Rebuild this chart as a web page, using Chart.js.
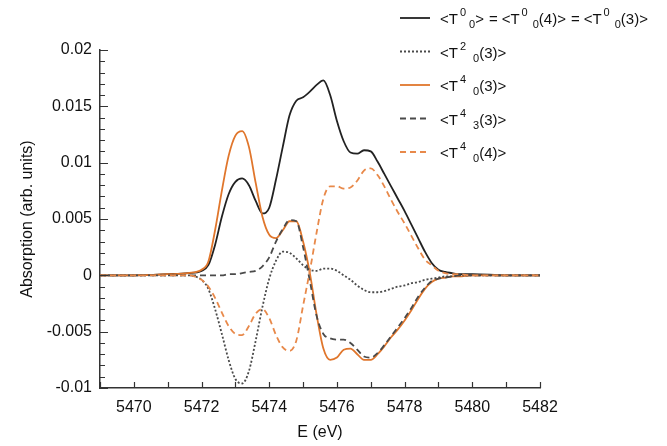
<!DOCTYPE html>
<html>
<head>
<meta charset="utf-8">
<script src="https://cdn.jsdelivr.net/npm/chart.js@4"></script>
<style>
  html, body { margin: 0; padding: 0; background: #fff; }
  #wrap { width: 667px; height: 446px; }
</style>
</head>
<body>
<div id="wrap"><canvas id="xasChart" width="667" height="446"></canvas></div>
<script>
// photon energy (eV), shared by every curve
const energy = [5469, 5470, 5471, 5471.6, 5472.0, 5472.2, 5472.4, 5472.6, 5472.8, 5473.0,
  5473.2, 5473.4, 5473.6, 5473.8, 5474.0, 5474.2, 5474.4, 5474.6, 5474.8, 5475.0,
  5475.2, 5475.4, 5475.6, 5475.8, 5476.0, 5476.2, 5476.4, 5476.6, 5476.8, 5477.0,
  5477.2, 5477.4, 5477.6, 5477.8, 5478.0, 5478.2, 5478.4, 5478.6, 5478.8, 5479.0,
  5479.2, 5479.4, 5479.6, 5480, 5481, 5482];

const t00 = [0, 0, 0.0001, 0.0002, 0.0004, 0.0009, 0.0027, 0.0052, 0.0072, 0.0083,
  0.0086, 0.0080, 0.0066, 0.0055, 0.0060, 0.0085, 0.0114, 0.0142, 0.0155, 0.0158,
  0.0163, 0.0169, 0.0173, 0.0160, 0.0137, 0.0119, 0.0109, 0.0108, 0.0111, 0.0110,
  0.0101, 0.0090, 0.0079, 0.0068, 0.0057, 0.0045, 0.0033, 0.0021, 0.0011, 0.0005,
  0.0003, 0.0002, 0.0001, 0.0001, 0, 0];

const t20_3 = [0, 0, 0, 0, -0.0004, -0.0012, -0.0030, -0.0052, -0.0075, -0.0092,
  -0.0096, -0.0085, -0.0058, -0.0028, -0.0003, 0.0013, 0.0021, 0.0020, 0.0015, 0.0009,
  0.0005, 0.0004, 0.0006, 0.0006, 0.0004, 0.0000, -0.0004, -0.0009, -0.0013, -0.0015,
  -0.0015, -0.0014, -0.0012, -0.0010, -0.0009, -0.0007, -0.0006, -0.0004, -0.0003, -0.0002,
  -0.0001, -0.0001, 0, 0, 0, 0];

const t40_3 = [0, 0, 0.0001, 0.0002, 0.0005, 0.0012, 0.0040, 0.0075, 0.0106, 0.0124,
  0.0128, 0.0114, 0.0082, 0.0052, 0.0036, 0.0033, 0.0040, 0.0048, 0.0048, 0.0030,
  0.0002, -0.0035, -0.0065, -0.0075, -0.0073, -0.0066, -0.0065, -0.0070, -0.0075, -0.0075,
  -0.0070, -0.0063, -0.0055, -0.0048, -0.0040, -0.0031, -0.0021, -0.0012, -0.0006, -0.0003,
  -0.0002, -0.0001, -0.0001, 0, 0, 0];

const t43_3 = [0, 0, 0, 0, 0, 0, 0, 0, 0.0001, 0.0001,
  0.0002, 0.0003, 0.0004, 0.0008, 0.0016, 0.0030, 0.0041, 0.0049, 0.0048, 0.0025,
  -0.0005, -0.0036, -0.0052, -0.0056, -0.0057, -0.0057, -0.0060, -0.0066, -0.0072, -0.0073,
  -0.0069, -0.0062, -0.0054, -0.0046, -0.0038, -0.0029, -0.0019, -0.0011, -0.0005, -0.0003,
  -0.0002, -0.0001, 0, 0, 0, 0];

const t40_4 = [0, 0, 0, 0, -0.0004, -0.0010, -0.0020, -0.0033, -0.0045, -0.0052,
  -0.0053, -0.0045, -0.0034, -0.0030, -0.0038, -0.0053, -0.0064, -0.0067, -0.0058, -0.0027,
  0.0004, 0.0038, 0.0068, 0.0079, 0.0079, 0.0077, 0.0078, 0.0084, 0.0093, 0.0095,
  0.0089, 0.0079, 0.0067, 0.0056, 0.0046, 0.0035, 0.0024, 0.0014, 0.0009, 0.0004,
  0.0002, 0.0001, 0.0001, 0, 0, 0];

const xTicks = [5470, 5472, 5474, 5476, 5478, 5480, 5482];
const yTicks = [-0.01, -0.005, 0, 0.005, 0.01, 0.015, 0.02];

const BLACK = '#222222';
const GREY = '#4a4a4a';
const ORANGE = '#e0762c';
const ORANGE_LIGHT = '#e8894a';
const FONT = '"Liberation Sans", Arial, sans-serif';

// legend rows: [T-superscript, T-subscript, argument] pieces
const legendRows = [
  { color: BLACK, dash: [], parts: [['0', '0', ''], ['0', '0', '(4)'], ['0', '0', '(3)']] },
  { color: GREY, dash: [2, 2], parts: [['2', '0', '(3)']] },
  { color: ORANGE, dash: [], parts: [['4', '0', '(3)']] },
  { color: GREY, dash: [6, 4], parts: [['4', '3', '(3)']] },
  { color: ORANGE_LIGHT, dash: [6, 4], parts: [['4', '0', '(4)']] }
];

function pts(arr) {
  return energy.map((e, i) => ({ x: e, y: arr[i] }));
}

function line(label, arr, color, dash) {
  return {
    label: label,
    data: pts(arr),
    borderColor: color,
    borderWidth: 1.8,
    borderDash: dash,
    pointRadius: 0,
    fill: false,
    cubicInterpolationMode: 'monotone'
  };
}

// inward tick marks like the original plot
const innerTicks = {
  id: 'innerTicks',
  afterDraw(chart) {
    const ctx = chart.ctx;
    const xs = chart.scales.x, ys = chart.scales.y;
    const area = chart.chartArea;
    ctx.save();
    ctx.strokeStyle = '#333';
    ctx.lineWidth = 1.2;
    ctx.beginPath();
    for (let v = 5469; v <= 5482; v++) {
      const px = Math.round(xs.getPixelForValue(v)) + 0.5;
      ctx.moveTo(px, area.bottom);
      ctx.lineTo(px, area.bottom - 6);
    }
    for (let k = -10; k <= 20; k++) {
      const py = Math.round(ys.getPixelForValue(k / 1000)) + 0.5;
      const len = k % 5 === 0 ? 8 : 5;
      ctx.moveTo(area.left, py);
      ctx.lineTo(area.left + len, py);
    }
    ctx.stroke();
    ctx.restore();
  }
};

// legend with super/subscripts drawn as text
const texLegend = {
  id: 'texLegend',
  afterDraw(chart) {
    const ctx = chart.ctx;
    const big = '15px ' + FONT;
    const small = '11px ' + FONT;
    ctx.save();
    ctx.textBaseline = 'alphabetic';
    ctx.fillStyle = '#111';
    legendRows.forEach((row, i) => {
      const y = 18 + i * 33.5;
      ctx.strokeStyle = row.color;
      ctx.lineWidth = 1.8;
      ctx.setLineDash(row.dash);
      ctx.beginPath();
      ctx.moveTo(400, y);
      ctx.lineTo(430, y);
      ctx.stroke();
      ctx.setLineDash([]);
      let x = 440;
      const base = y + 6;
      row.parts.forEach((p, j) => {
        if (j > 0) {
          ctx.font = big;
          ctx.fillText('=', x + 5, base);
          x += ctx.measureText('=').width + 9;
        }
        const gap = i === 0 ? (j === 0 ? 3 : 5) : 7;
        ctx.font = big;
        ctx.fillText('<T', x, base);
        x += ctx.measureText('<T').width + 2;
        ctx.font = small;
        ctx.fillText(p[0], x, base - 8);
        x += ctx.measureText(p[0]).width + gap;
        ctx.fillText(p[1], x, base + 4);
        x += ctx.measureText(p[1]).width;
        ctx.font = big;
        const tail = p[2] + '>';
        ctx.fillText(tail, x, base);
        x += ctx.measureText(tail).width;
      });
    });
    ctx.restore();
  }
};

new Chart(document.getElementById('xasChart').getContext('2d'), {
  type: 'line',
  data: {
    datasets: [
      line('<T40(4)>', t40_4, ORANGE_LIGHT, [6, 4]),
      line('<T43(3)>', t43_3, GREY, [6, 4]),
      line('<T20(3)>', t20_3, GREY, [2, 2]),
      line('<T40(3)>', t40_3, ORANGE, []),
      line('<T00>', t00, BLACK, [])
    ]
  },
  options: {
    responsive: false,
    animation: false,
    layout: { padding: { top: 50, right: 127, left: 18, bottom: 0 } },
    plugins: {
      legend: { display: false },
      tooltip: { enabled: false }
    },
    scales: {
      x: {
        type: 'linear',
        min: 5469,
        max: 5482,
        afterFit: s => { s.height = 58; },
        afterBuildTicks: s => { s.ticks = xTicks.map(v => ({ value: v })); },
        grid: { display: false, drawTicks: false },
        border: { display: true, color: '#333', width: 1.5 },
        ticks: {
          padding: 10,
          color: '#111',
          font: { family: FONT, size: 16 },
          callback: v => String(v)
        },
        title: {
          display: true,
          text: 'E (eV)',
          color: '#111',
          padding: { top: 0 },
          font: { family: FONT, size: 16 }
        }
      },
      y: {
        min: -0.01,
        max: 0.02,
        afterFit: s => { s.width = 82; },
        afterBuildTicks: s => { s.ticks = yTicks.map(v => ({ value: v })); },
        grid: { display: false, drawTicks: false },
        border: { display: true, color: '#333', width: 1.5 },
        ticks: {
          padding: 8,
          color: '#111',
          font: { family: FONT, size: 16 },
          callback: v => String(Math.round(v * 1000) / 1000)
        },
        title: {
          display: true,
          text: 'Absorption (arb. units)',
          color: '#111',
          padding: { top: 0, bottom: 0 },
          font: { family: FONT, size: 16 }
        }
      }
    }
  },
  plugins: [innerTicks, texLegend]
});
</script>
</body>
</html>
